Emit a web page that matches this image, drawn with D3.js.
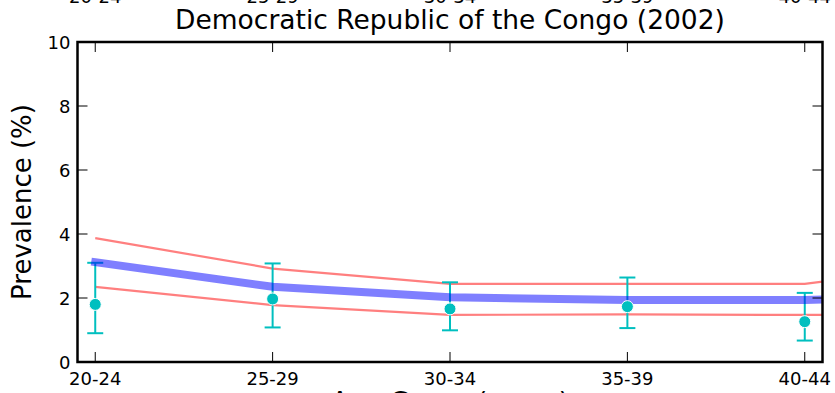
<!DOCTYPE html>
<html>
<head>
<meta charset="utf-8">
<script src="https://cdn.jsdelivr.net/npm/d3@7"></script>
<style>
  body { margin: 0; background: #fff; }
  svg { display: block; }
  text { font-family: "DejaVu Sans", sans-serif; fill: #000; }
</style>
</head>
<body>
<svg id="chart" width="835" height="393"></svg>
<script>
const title = "Democratic Republic of the Congo (2002)";
const categories = ["20-24", "25-29", "30-34", "35-39", "40-44"];
const yTicks = [0, 2, 4, 6, 8, 10];

// model curves (x position in category index units)
const curveX = [0, 1, 2, 3, 4, 4.1];
const modelMean = [3.12, 2.35, 2.02, 1.94, 1.94, 1.95];
const modelUpper = [3.87, 2.92, 2.44, 2.44, 2.44, 2.51];
const modelLower = [2.35, 1.78, 1.47, 1.49, 1.47, 1.47];

// observed data with error bars
const obsValue = [1.80, 1.97, 1.66, 1.73, 1.26];
const obsLow = [0.90, 1.08, 0.99, 1.06, 0.67];
const obsHigh = [3.10, 3.08, 2.49, 2.64, 2.16];

const svg = d3.select("#chart");
const m = { left: 77.5, right: 822.5, top: 42, bottom: 362 };

const x = d3.scaleLinear().domain([-0.1, 4.1]).range([m.left, m.right]);
const y = d3.scaleLinear().domain([0, 10]).range([m.bottom, m.top]);

svg.append("defs").append("clipPath").attr("id", "clip")
  .append("rect").attr("x", m.left).attr("y", m.top)
  .attr("width", m.right - m.left).attr("height", m.bottom - m.top);

const plot = svg.append("g");

const line = d3.line().x(d => x(d[0])).y(d => y(d[1]));

// red bounds
[modelUpper, modelLower].forEach(arr => {
  plot.append("path")
    .attr("clip-path", "url(#clip)")
    .attr("d", line(curveX.map((cx, i) => [cx, arr[i]])))
    .attr("fill", "none")
    .attr("stroke", "rgba(255,0,0,0.5)")
    .attr("stroke-width", 2.2);
});

// error bars
const ebColor = "#00bfbf";
const eb = plot.append("g");
categories.forEach((c, i) => {
  const cx = x(i);
  eb.append("line").attr("x1", cx).attr("x2", cx)
    .attr("y1", y(obsLow[i])).attr("y2", y(obsHigh[i]))
    .attr("stroke", ebColor).attr("stroke-width", 2);
  [obsLow[i], obsHigh[i]].forEach(v => {
    eb.append("line").attr("x1", cx - 8).attr("x2", cx + 8)
      .attr("y1", y(v)).attr("y2", y(v))
      .attr("stroke", ebColor).attr("stroke-width", 2);
  });
});

// blue mean line
plot.append("path")
  .attr("clip-path", "url(#clip)")
  .attr("d", line(curveX.map((cx, i) => [cx, modelMean[i]])))
  .attr("fill", "none")
  .attr("stroke", "rgba(0,0,255,0.5)")
  .attr("stroke-width", 8)
  .attr("stroke-linecap", "square");

// markers
categories.forEach((c, i) => {
  plot.append("circle")
    .attr("cx", x(i)).attr("cy", y(obsValue[i])).attr("r", 6)
    .attr("fill", ebColor).attr("stroke", "#fff").attr("stroke-width", 1);
});

// ticks (inside) on all four sides
const tk = svg.append("g").attr("stroke", "#000").attr("stroke-width", 1);
categories.forEach((c, i) => {
  const cx = x(i);
  tk.append("line").attr("x1", cx).attr("x2", cx).attr("y1", m.bottom).attr("y2", m.bottom - 10);
  tk.append("line").attr("x1", cx).attr("x2", cx).attr("y1", m.top).attr("y2", m.top + 10);
});
yTicks.forEach(v => {
  tk.append("line").attr("x1", m.left).attr("x2", m.left + 10).attr("y1", y(v)).attr("y2", y(v));
  tk.append("line").attr("x1", m.right).attr("x2", m.right - 10).attr("y1", y(v)).attr("y2", y(v));
});

// frame
svg.append("rect")
  .attr("x", m.left).attr("y", m.top)
  .attr("width", m.right - m.left).attr("height", m.bottom - m.top)
  .attr("fill", "none").attr("stroke", "#000").attr("stroke-width", 2.5);

// tick labels
categories.forEach((c, i) => {
  svg.append("text").attr("x", x(i)).attr("y", 385)
    .attr("text-anchor", "middle").attr("font-size", 18).text(c);
  // cut-off labels from the panel above
  svg.append("text").attr("x", x(i)).attr("y", 3)
    .attr("text-anchor", "middle").attr("font-size", 18).text(c);
});
yTicks.forEach(v => {
  svg.append("text").attr("x", m.left - 7).attr("y", y(v) + 6.5)
    .attr("text-anchor", "end").attr("font-size", 18).text(v);
});

// title
svg.append("text").attr("x", (m.left + m.right) / 2).attr("y", 29)
  .attr("text-anchor", "middle").attr("font-size", 26.5).text(title);

// y label
svg.append("text")
  .attr("transform", `translate(31,${(m.top + m.bottom) / 2}) rotate(-90)`)
  .attr("text-anchor", "middle").attr("font-size", 26).text("Prevalence (%)");

// x label (cut off at bottom)
svg.append("text").attr("x", (m.left + m.right) / 2).attr("y", 411)
  .attr("text-anchor", "middle").attr("font-size", 26).text("Age Group (years)");
</script>
</body>
</html>
